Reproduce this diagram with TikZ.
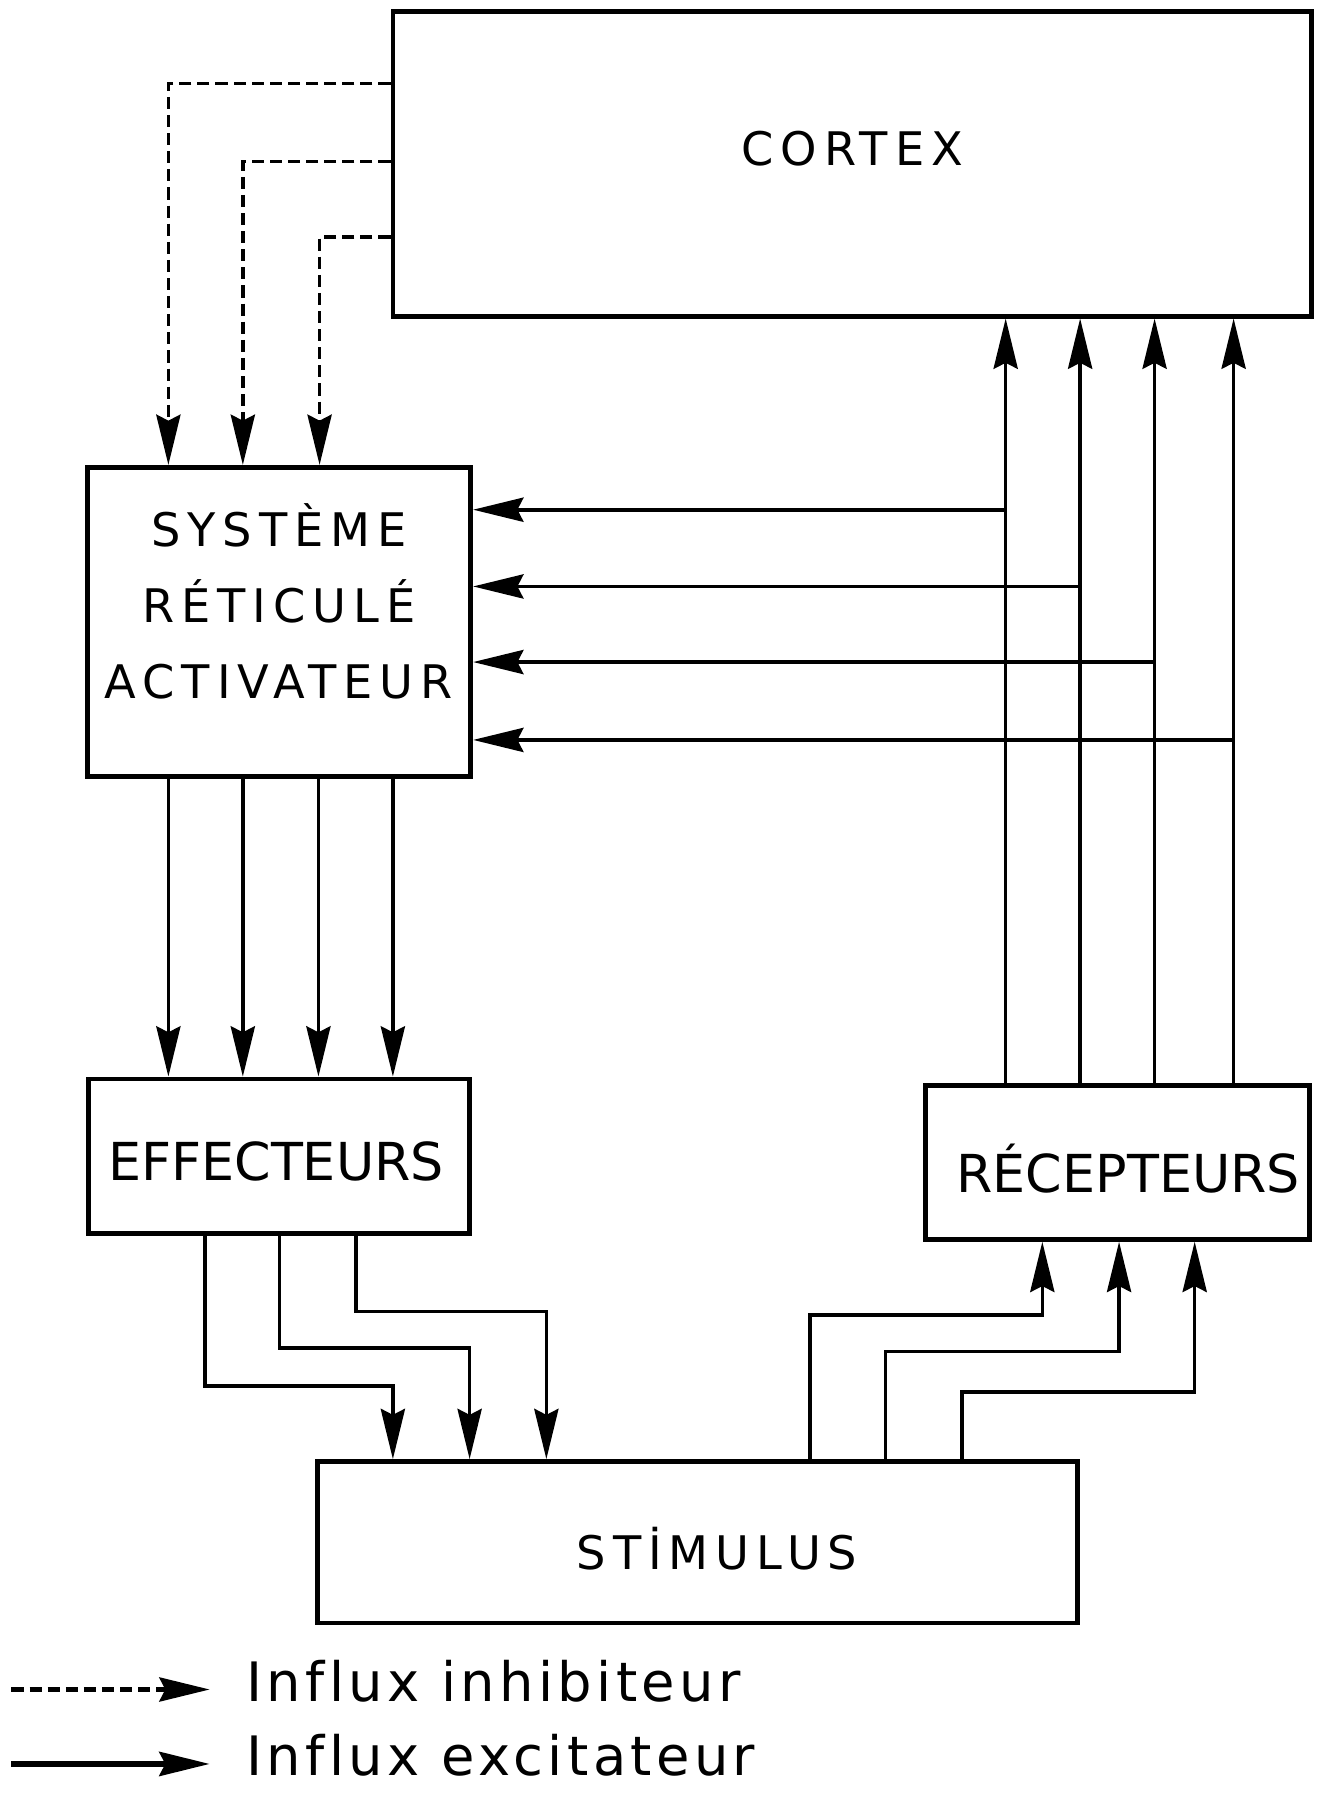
\documentclass[tikz,border=0pt]{standalone}
\usepackage{fontspec}
\setmainfont{DejaVu Sans}
\newfontfamily\boxfont[LetterSpace=15]{DejaVu Sans}
\newfontfamily\legfont[LetterSpace=8, Ligatures=NoCommon]{DejaVu Sans}
\usetikzlibrary{arrows.meta}

\begin{document}
\begin{tikzpicture}[
    x=0.02cm, y=-0.02cm,
    box/.style={draw, line width=2.4pt, inner sep=0pt, align=center, font=\boxfont\fontsize{23}{38}\selectfont},
    boxtext/.style={inner sep=0pt, align=center, font=\boxfont\fontsize{23}{38}\selectfont},
    exc/.style={-{Stealth[length=25pt, width=12pt, inset=3pt]}, line width=1.8pt},
    inh/.style={exc, dash pattern=on 6pt off 3pt},
    leg/.style={anchor=west, inner sep=0pt, font=\legfont\fontsize{27}{32}\selectfont},
]
\useasboundingbox (0,0) rectangle (1154,1568);

\node[box, minimum width=16.04cm, minimum height=5.32cm] (cortex) at (744,143) {};
\node[boxtext] (cortextext) at (744,130) {CORTEX};
\node[box, minimum width=6.7cm, minimum height=5.4cm] (sra) at (243.5,543) {};
\node[boxtext] (sratext) at (243.5,525) {SYSTÈME\\RÉTICULÉ\\ACTIVATEUR};
\node[box, minimum width=6.66cm, minimum height=2.7cm] (eff) at (243.5,1009.5) {};
\node[inner sep=0pt, font=\fontsize{26}{30}\selectfont] (efftext) at (241,1014) {EFFECTEURS};
\node[box, minimum width=6.7cm, minimum height=2.68cm] (rec) at (975.5,1015) {};
\node[inner sep=0pt, font=\fontsize{26}{30}\selectfont] (rectext) at (985,1020) {RÉCEPTEURS};
\node[box, minimum width=13.28cm, minimum height=2.82cm] (stim) at (609,1346.5) {};
\node[boxtext] (stimtext) at (626,1352) {STİMULUS};

% inhibiteur : cortex -> systeme reticule
\draw[inh] (cortex.west |- 0,73) -| (147,0 |- sra.north);
\draw[inh] (cortex.west |- 0,141) -| (212,0 |- sra.north);
\draw[inh] (cortex.west |- 0,207) -| (279,0 |- sra.north);

% recepteurs -> cortex, avec branches vers le systeme reticule
\coordinate (b1) at (878,445);
\coordinate (b2) at (943,512);
\coordinate (b3) at (1008,578);
\coordinate (b4) at (1077,646);
\draw[exc] (b1 |- rec.north) -- (b1 |- cortex.south);
\draw[exc] (b2 |- rec.north) -- (b2 |- cortex.south);
\draw[exc] (b3 |- rec.north) -- (b3 |- cortex.south);
\draw[exc] (b4 |- rec.north) -- (b4 |- cortex.south);
\draw[exc] (b1) -- (sra.east |- b1);
\draw[exc] (b2) -- (sra.east |- b2);
\draw[exc] (b3) -- (sra.east |- b3);
\draw[exc] (b4) -- (sra.east |- b4);

% systeme reticule -> effecteurs
\draw[exc] (147,0 |- sra.south) -- (147,0 |- eff.north);
\draw[exc] (212,0 |- sra.south) -- (212,0 |- eff.north);
\draw[exc] (278,0 |- sra.south) -- (278,0 |- eff.north);
\draw[exc] (343,0 |- sra.south) -- (343,0 |- eff.north);

% effecteurs -> stimulus
\draw[exc] (179,0 |- eff.south) |- (343,1210) -- (343,0 |- stim.north);
\draw[exc] (244,0 |- eff.south) |- (410,1177) -- (410,0 |- stim.north);
\draw[exc] (311,0 |- eff.south) |- (477,1145) -- (477,0 |- stim.north);

% stimulus -> recepteurs
\draw[exc] (707,0 |- stim.north) |- (910,1148) -- (910,0 |- rec.south);
\draw[exc] (773,0 |- stim.north) |- (977,1180) -- (977,0 |- rec.south);
\draw[exc] (840,0 |- stim.north) |- (1043,1215) -- (1043,0 |- rec.south);

% legende
\node[leg] (linh) at (215,1468) {Influx inhibiteur};
\node[leg] (lexc) at (215,1532) {Influx excitateur};
\coordinate (linhstart) at (10,1475);
\coordinate (lexcstart) at (10,1540);
\draw[inh, line width=2pt, shorten >=0.64cm] (linhstart) -- (linhstart -| linh.west);
\draw[exc, line width=2.6pt, shorten >=0.64cm] (lexcstart) -- (lexcstart -| lexc.west);
\end{tikzpicture}
\end{document}
